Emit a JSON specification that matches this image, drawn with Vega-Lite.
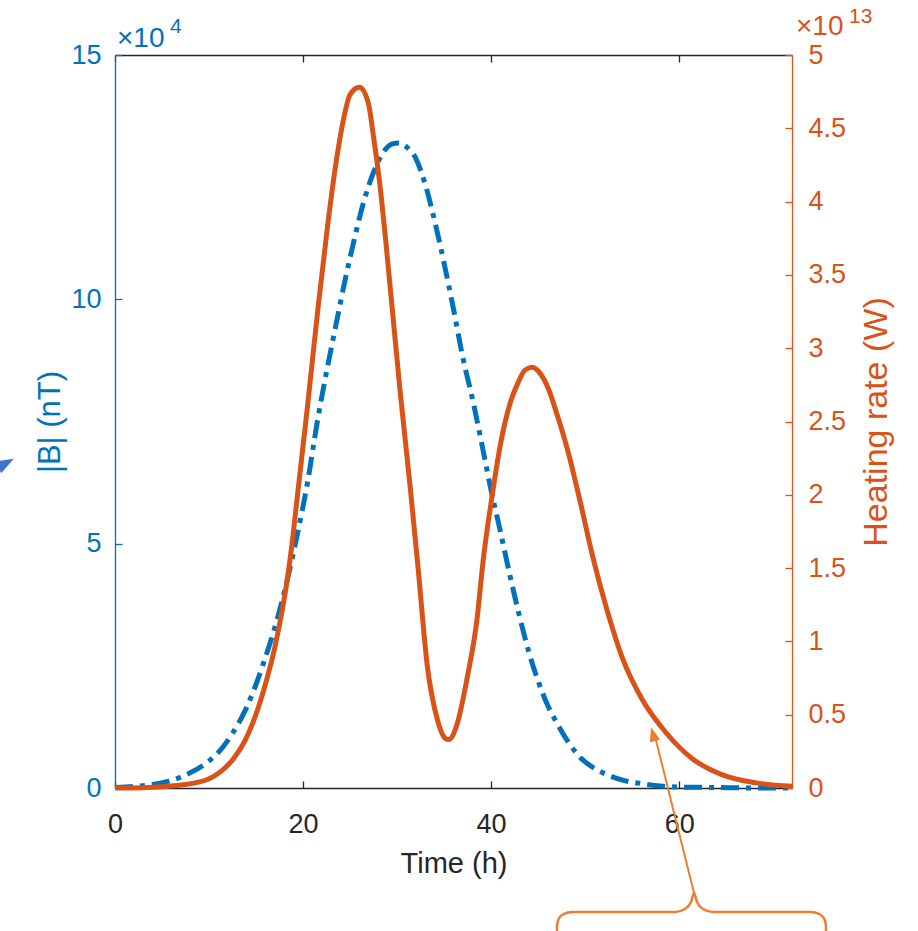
{
  "$schema": "https://vega.github.io/schema/vega-lite/v6.json",
  "width": 677,
  "height": 733,
  "autosize": {"type": "none"},
  "padding": {"left": 115, "top": 55, "right": 126, "bottom": 143},
  "background": "white",
  "config": {
    "view": {"stroke": null},
    "font": "Liberation Sans",
    "axis": {"grid": false, "labelFont": "Liberation Sans", "titleFont": "Liberation Sans", "titleFontWeight": "normal", "labelFlush": false, "labelOverlap": false}
  },
  "datasets": {
    "bfield": [
      {"t": 0, "B": 0.01}, {"t": 2, "B": 0.03}, {"t": 4, "B": 0.07}, {"t": 5.5, "B": 0.13},
      {"t": 7, "B": 0.225}, {"t": 8, "B": 0.31}, {"t": 9.5, "B": 0.48}, {"t": 11, "B": 0.73},
      {"t": 12.5, "B": 1.12}, {"t": 14, "B": 1.65}, {"t": 15.8, "B": 2.56}, {"t": 17.6, "B": 3.7},
      {"t": 19.4, "B": 5.2}, {"t": 20.5, "B": 6.28}, {"t": 21.5, "B": 7.48}, {"t": 22.5, "B": 8.52},
      {"t": 23.5, "B": 9.48}, {"t": 24.5, "B": 10.42}, {"t": 25.5, "B": 11.27}, {"t": 26.5, "B": 12.03},
      {"t": 27.5, "B": 12.6}, {"t": 28.5, "B": 13.0}, {"t": 29.5, "B": 13.18}, {"t": 30.2, "B": 13.2},
      {"t": 31, "B": 13.12}, {"t": 32, "B": 12.88}, {"t": 33, "B": 12.35}, {"t": 34, "B": 11.6},
      {"t": 35, "B": 10.74}, {"t": 36, "B": 9.8}, {"t": 37, "B": 8.8}, {"t": 38, "B": 7.98},
      {"t": 39, "B": 7.05}, {"t": 40, "B": 6.09}, {"t": 41, "B": 5.24}, {"t": 42, "B": 4.35},
      {"t": 43, "B": 3.53}, {"t": 44, "B": 2.79}, {"t": 45, "B": 2.19}, {"t": 46, "B": 1.7},
      {"t": 47, "B": 1.33}, {"t": 48, "B": 1.0}, {"t": 49.5, "B": 0.62}, {"t": 51, "B": 0.4},
      {"t": 52.5, "B": 0.26}, {"t": 54, "B": 0.16}, {"t": 56, "B": 0.09}, {"t": 58, "B": 0.04},
      {"t": 60, "B": 0.02}, {"t": 64, "B": 0.01}, {"t": 68, "B": 0.0}, {"t": 72, "B": 0.0}
    ],
    "heating": [
      {"t": 0, "H": 0}, {"t": 3, "H": 0.002}, {"t": 5, "H": 0.008}, {"t": 7, "H": 0.02},
      {"t": 9.9, "H": 0.06}, {"t": 11.3, "H": 0.115}, {"t": 12.6, "H": 0.2}, {"t": 13.8, "H": 0.32},
      {"t": 14.75, "H": 0.46}, {"t": 15.6, "H": 0.62}, {"t": 16.35, "H": 0.79}, {"t": 17.0, "H": 0.96},
      {"t": 17.6, "H": 1.15}, {"t": 18.2, "H": 1.37}, {"t": 18.7, "H": 1.6}, {"t": 19.5, "H": 2.05},
      {"t": 20.5, "H": 2.62}, {"t": 21.6, "H": 3.28}, {"t": 22.6, "H": 3.83}, {"t": 23.45, "H": 4.24},
      {"t": 24.3, "H": 4.56}, {"t": 25.0, "H": 4.73}, {"t": 26.0, "H": 4.78}, {"t": 26.95, "H": 4.67},
      {"t": 27.5, "H": 4.44}, {"t": 28.2, "H": 4.1}, {"t": 28.75, "H": 3.76}, {"t": 29.5, "H": 3.26},
      {"t": 30.35, "H": 2.69}, {"t": 31.4, "H": 2.05}, {"t": 32.25, "H": 1.49}, {"t": 33.2, "H": 0.84},
      {"t": 34.27, "H": 0.47}, {"t": 35.1, "H": 0.34}, {"t": 35.5, "H": 0.33}, {"t": 36.4, "H": 0.44},
      {"t": 37.45, "H": 0.75}, {"t": 38.5, "H": 1.15}, {"t": 39.15, "H": 1.55}, {"t": 40.1, "H": 1.99},
      {"t": 40.95, "H": 2.33}, {"t": 42.0, "H": 2.62}, {"t": 42.9, "H": 2.77}, {"t": 43.6, "H": 2.85},
      {"t": 44.35, "H": 2.87}, {"t": 45.2, "H": 2.83}, {"t": 46.05, "H": 2.73}, {"t": 47.1, "H": 2.53},
      {"t": 48.2, "H": 2.29}, {"t": 49.45, "H": 1.96}, {"t": 50.8, "H": 1.58}, {"t": 52.3, "H": 1.22},
      {"t": 54.0, "H": 0.88}, {"t": 56.1, "H": 0.6}, {"t": 58.7, "H": 0.37}, {"t": 61.4, "H": 0.2},
      {"t": 64.6, "H": 0.09}, {"t": 68.2, "H": 0.035}, {"t": 72, "H": 0.012}
    ],
    "brace": [
      {"i": 1, "t": 47.01, "H": -0.975}, {"i": 2, "t": 47.01, "H": -0.935}, {"i": 3, "t": 47.22, "H": -0.887},
      {"i": 4, "t": 47.75, "H": -0.859}, {"i": 5, "t": 48.6, "H": -0.846}, {"i": 6, "t": 59.56, "H": -0.846},
      {"i": 7, "t": 60.62, "H": -0.825}, {"i": 8, "t": 61.26, "H": -0.778}, {"i": 9, "t": 61.58, "H": -0.716},
      {"i": 10, "t": 61.9, "H": -0.778}, {"i": 11, "t": 62.54, "H": -0.825}, {"i": 12, "t": 63.6, "H": -0.846},
      {"i": 13, "t": 74.02, "H": -0.846}, {"i": 14, "t": 74.87, "H": -0.859}, {"i": 15, "t": 75.4, "H": -0.887},
      {"i": 16, "t": 75.61, "H": -0.935}, {"i": 17, "t": 75.61, "H": -0.975}
    ]
  },
  "layer": [
    {
      "layer": [
        {
          "data": {"name": "bfield"},
          "mark": {"type": "line", "color": "#0072BD", "strokeWidth": 5, "strokeDash": [18, 7, 5, 7], "interpolate": "monotone"},
          "encoding": {
            "x": {"field": "t", "type": "quantitative", "scale": {"domain": [0, 72], "nice": false, "zero": false},
              "axis": {"orient": "bottom", "values": [0, 20, 40, 60], "title": "Time (h)", "domainColor": "#262626", "domainWidth": 1.3,
                "tickColor": "#262626", "tickWidth": 1.3, "tickSize": -7, "labelColor": "#262626", "labelFontSize": 27,
                "labelPadding": 30, "titleFontSize": 29, "titleColor": "#262626", "titlePadding": 12}},
            "y": {"field": "B", "type": "quantitative", "scale": {"domain": [0, 15], "nice": false, "zero": true},
              "axis": {"orient": "left", "values": [0, 5, 10, 15], "title": "|B| (nT)", "domainColor": "#0072BD", "domainWidth": 1.3,
                "tickColor": "#0072BD", "tickWidth": 1.3, "tickSize": -7, "labelColor": "#0072BD", "labelFontSize": 27,
                "labelPadding": 21, "titleFontSize": 31, "titleColor": "#0072BD", "titlePadding": 4}}
          }
        },
        {
          "data": {"values": [{"t": 0, "B": 15, "label": "×10"}]},
          "mark": {"type": "text", "align": "left", "baseline": "alphabetic", "dx": 2, "dy": -8, "fontSize": 28, "color": "#0072BD"},
          "encoding": {"x": {"field": "t", "type": "quantitative"}, "y": {"field": "B", "type": "quantitative"}, "text": {"field": "label"}}
        },
        {
          "data": {"values": [{"t": 0, "B": 15, "label": "4"}]},
          "mark": {"type": "text", "align": "left", "baseline": "alphabetic", "dx": 55, "dy": -22, "fontSize": 21, "color": "#0072BD"},
          "encoding": {"x": {"field": "t", "type": "quantitative"}, "y": {"field": "B", "type": "quantitative"}, "text": {"field": "label"}}
        },
        {
          "data": {"values": [{"t": -11.6, "B": 6.65}]},
          "mark": {"type": "point", "shape": "M0,-1L0.75,1L-0.75,1Z", "filled": true, "opacity": 1, "color": "#4472C4", "size": 320, "angle": 62},
          "encoding": {"x": {"field": "t", "type": "quantitative"}, "y": {"field": "B", "type": "quantitative"}}
        }
      ]
    },
    {
      "layer": [
        {
          "data": {"name": "heating"},
          "mark": {"type": "line", "color": "#D95319", "strokeWidth": 5, "interpolate": "monotone"},
          "encoding": {
            "x": {"field": "t", "type": "quantitative",
              "axis": {"orient": "top", "values": [0, 20, 40, 60], "labels": false, "title": null, "domainColor": "#262626", "domainWidth": 1.3,
                "tickColor": "#262626", "tickWidth": 1.3, "tickSize": -7}},
            "y": {"field": "H", "type": "quantitative", "scale": {"domain": [0, 5], "nice": false, "zero": true},
              "axis": {"orient": "right", "values": [0, 0.5, 1, 1.5, 2, 2.5, 3, 3.5, 4, 4.5, 5], "format": "~g", "title": "Heating rate (W)",
                "domainColor": "#D95319", "domainWidth": 1.3, "tickColor": "#D95319", "tickWidth": 1.3, "tickSize": -7,
                "labelColor": "#D95319", "labelFontSize": 27, "labelPadding": 23, "titleFontSize": 34, "titleColor": "#D95319",
                "titleAngle": 270, "titleBaseline": "top", "titlePadding": 14}}
          }
        },
        {
          "data": {"values": [{"t": 61.58, "H": -0.716, "t2": 57.53, "H2": 0.327}]},
          "mark": {"type": "rule", "color": "#ED7D31", "strokeWidth": 2},
          "encoding": {"x": {"field": "t", "type": "quantitative"}, "y": {"field": "H", "type": "quantitative"}, "x2": {"field": "t2"}, "y2": {"field": "H2"}}
        },
        {
          "data": {"values": [{"t": 57.22, "H": 0.368}]},
          "mark": {"type": "point", "shape": "M0,-1L0.75,1L-0.75,1Z", "filled": true, "opacity": 1, "color": "#ED7D31", "size": 200, "angle": 344},
          "encoding": {"x": {"field": "t", "type": "quantitative"}, "y": {"field": "H", "type": "quantitative"}}
        },
        {
          "data": {"name": "brace"},
          "mark": {"type": "line", "color": "#ED7D31", "strokeWidth": 2.5, "interpolate": "monotone"},
          "encoding": {"x": {"field": "t", "type": "quantitative"}, "y": {"field": "H", "type": "quantitative"}, "order": {"field": "i"}}
        },
        {
          "data": {"values": [{"t": 72, "H": 5, "label": "×10"}]},
          "mark": {"type": "text", "align": "left", "baseline": "alphabetic", "dx": 4, "dy": -20, "fontSize": 28, "color": "#D95319"},
          "encoding": {"x": {"field": "t", "type": "quantitative"}, "y": {"field": "H", "type": "quantitative"}, "text": {"field": "label"}}
        },
        {
          "data": {"values": [{"t": 72, "H": 5, "label": "13"}]},
          "mark": {"type": "text", "align": "left", "baseline": "alphabetic", "dx": 57, "dy": -32, "fontSize": 21, "color": "#D95319"},
          "encoding": {"x": {"field": "t", "type": "quantitative"}, "y": {"field": "H", "type": "quantitative"}, "text": {"field": "label"}}
        }
      ]
    }
  ],
  "resolve": {"scale": {"y": "independent"}, "axis": {"y": "independent", "x": "independent"}}
}
